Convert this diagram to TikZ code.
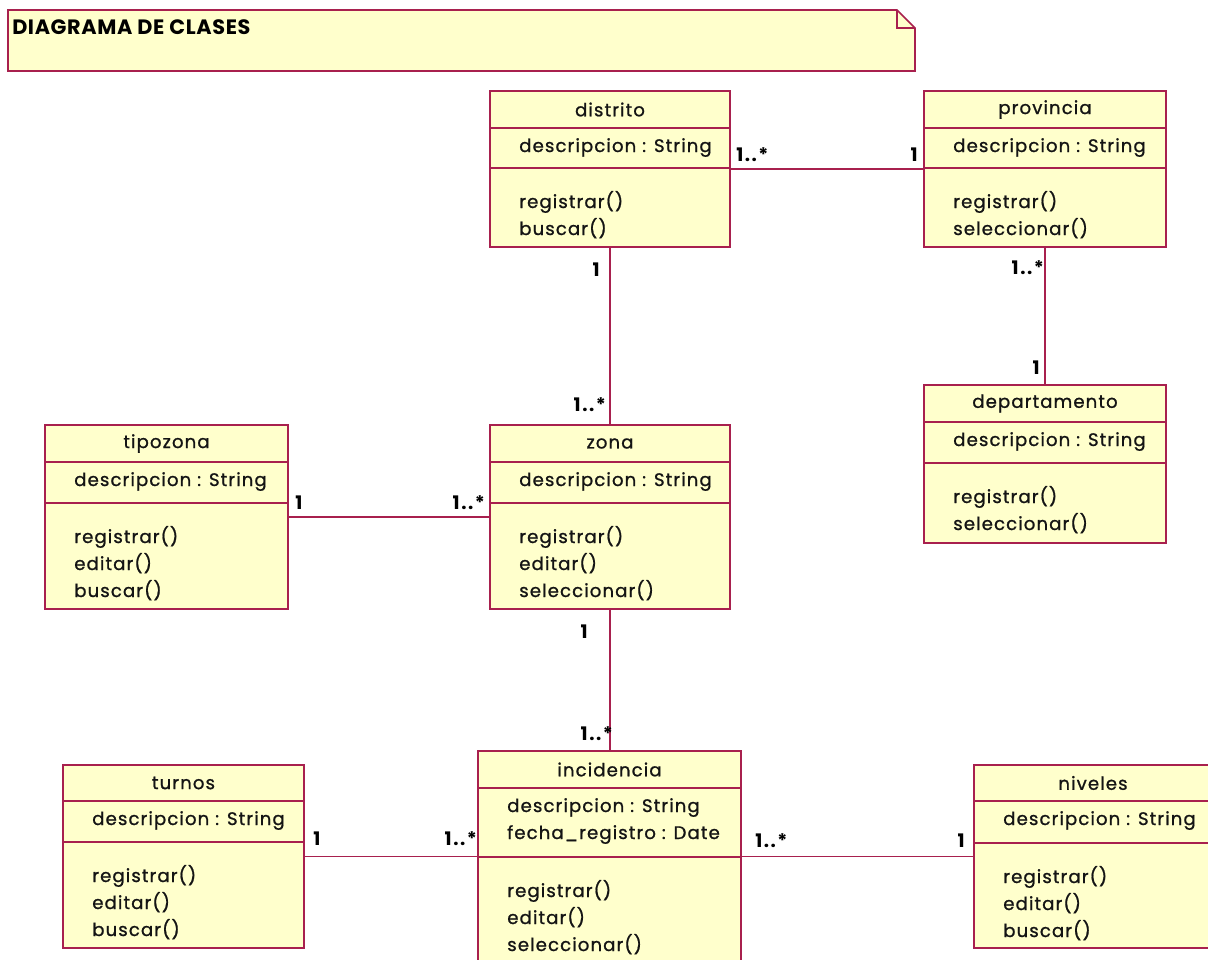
\documentclass[tikz,border=0pt]{standalone}
\usepackage{fontspec}
\setmainfont{Poppins}
\newfontfamily\umlfont{Poppins}[LetterSpace=6, FakeBold=1.0]
\newfontfamily\multfont{Poppins}[LetterSpace=8]
\usetikzlibrary{fit}
\definecolor{umlfill}{RGB}{255,255,204}
\definecolor{umlline}{RGB}{168,32,78}
\definecolor{umltext}{RGB}{20,20,20}
\tikzset{
  clsbox/.style={draw=umlline, fill=umlfill, line width=1.3pt, inner sep=0pt},
  clsline/.style={draw=umlline, line width=1.3pt},
  clstext/.style={inner sep=0pt, font=\umlfont\fontsize{13.6}{15}\selectfont, text=umltext},
  assoc/.style={draw=umlline, line width=1.3pt},
  mult/.style={inner sep=0pt, font=\multfont\bfseries\fontsize{14}{15}\selectfont, text=black},
  notebox/.style={draw=umlline, fill=umlfill, line width=1.3pt},
}
\def\umlgeom#1/#2/#3/#4/#5/#6\relax{\def\ux{#1}\def\uy{#2}\def\uX{#3}\def\uY{#4}\def\uh{#5}\def\us{#6}}
\newcommand\umlcls[5]{%
  \umlgeom#2\relax
  \coordinate (#1-nw) at (\ux,\uy);
  \coordinate (#1-se) at (\uX,\uY);
  \node[clsbox, fit=(#1-nw)(#1-se)] (#1) {};
  \draw[clsline] (\ux,\uh) -- (\uX,\uh);
  \draw[clsline] (\ux,\us) -- (\uX,\us);
  \node[clstext] (#1-title) at ({(\ux+\uX)/2},{(\uy+\uh)/2}) {#3};
  \foreach[count=\i] \t in {#4} {\node[clstext, anchor=base west] (#1-a\i) at ({\ux+29},{\uh+24+(\i-1)*27}) {\t};}
  \foreach[count=\i] \t in {#5} {\node[clstext, anchor=base west] (#1-m\i) at ({\ux+29},{\us+40+(\i-1)*27}) {\t};}
}
\begin{document}
\begin{tikzpicture}[x=0.75pt, y=-0.75pt]
\useasboundingbox (0,0) rectangle (1208,960);
\fill[white] (0,0) rectangle (1208,960);
\clip (0,0) rectangle (1208,960);
% note
\draw[notebox] (8,10) -- (897,10) -- (915,28) -- (915,71) -- (8,71) -- cycle;
\draw[clsline] (897,10) -- (897,28) -- (915,28);
\node[anchor=base west, inner sep=0pt, font=\fontsize{15.6}{16}\selectfont\bfseries\addfontfeatures{LetterSpace=3}] (notetitle) at (12,35) {DIAGRAMA DE CLASES};
% classes
\umlcls{distrito}{490/91/730/247/128/168}{distrito}{descripcion : String}{registrar(),buscar()}
\umlcls{provincia}{924/91/1166/247/128/168}{provincia}{descripcion : String}{registrar(),seleccionar()}
\umlcls{departamento}{924/385/1166/543/422/463}{departamento}{descripcion : String}{registrar(),seleccionar()}
\umlcls{tipozona}{45/425/288/609/462/503}{tipozona}{descripcion : String}{registrar(),editar(),buscar()}
\umlcls{zona}{490/425/730/609/462/503}{zona}{descripcion : String}{registrar(),editar(),seleccionar()}
\umlcls{turnos}{63/765/304/948/801/842}{turnos}{descripcion : String}{registrar(),editar(),buscar()}
\umlcls{incidencia}{478/751/741/968/788/857}{incidencia}{descripcion : String,fecha\_registro : Date}{registrar(),editar(),seleccionar()}
\umlcls{niveles}{974/765/1212/948/801/843}{niveles}{descripcion : String}{registrar(),editar(),buscar()}
% associations
\draw[assoc] (distrito) -- (provincia);
\draw[assoc] (distrito) -- (zona);
\draw[assoc] (provincia) -- (departamento);
\draw[assoc] (tipozona) -- (zona);
\draw[assoc] (zona.south) -- (zona.south |- incidencia.north);
\draw[assoc] (turnos.east) -- (turnos.east -| incidencia.west);
\draw[assoc] (niveles.west) -- (niveles.west -| incidencia.east);
% multiplicities
\node[mult, anchor=base west] (m1) at (736,161) {1..*};
\node[mult, anchor=base east] (m2) at (918,161) {1};
\node[mult, anchor=base east] (m3) at (600,276) {1};
\node[mult, anchor=base east] (m4) at (606,411) {1..*};
\node[mult, anchor=base east] (m5) at (1044,274) {1..*};
\node[mult, anchor=base east] (m6) at (1040,374) {1};
\node[mult, anchor=base west] (m7) at (295,509) {1};
\node[mult, anchor=base east] (m8) at (485,509) {1..*};
\node[mult, anchor=base east] (m9) at (588,638) {1};
\node[mult, anchor=base east] (m10) at (613,740) {1..*};
\node[mult, anchor=base west] (m11) at (313,845) {1};
\node[mult, anchor=base east] (m12) at (477,845) {1..*};
\node[mult, anchor=base west] (m13) at (755,847) {1..*};
\node[mult, anchor=base east] (m14) at (965,847) {1};
\end{tikzpicture}
\end{document}
